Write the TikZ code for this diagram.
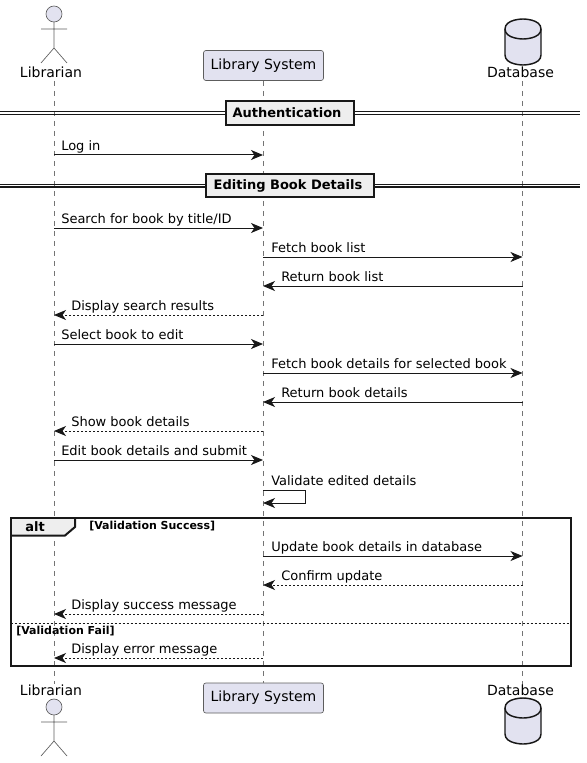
\documentclass[tikz,border=0pt]{standalone}
\usepackage{fontspec}
\setmainfont{DejaVu Sans}
\usetikzlibrary{
  arrows.meta,
  calc
}
\definecolor{fillP}{RGB}{226, 226, 240}
\definecolor{fillG}{RGB}{238, 238, 238}
\definecolor{inkclr}{RGB}{24, 24, 24}
\tikzset{
  % Lines
  lifeline/.style  = {draw=inkclr!60, line width=0.4pt, dash pattern=on 3.75pt off 3.75pt},
  actorline/.style = {draw=inkclr!70, line width=0.5pt},
  msgline/.style   = {draw=inkclr, line width=0.75pt, -{Stealth[length=9pt,width=7.5pt,inset=2.6pt]}},
  msgdash/.style   = {msgline, dash pattern=on 1.5pt off 1.5pt},
  % Shapes
  partbox/.style   = {draw=inkclr!70, fill=fillP, line width=0.5pt, rounded corners=1.8pt,
                      minimum width=90pt, minimum height=22.5pt, inner sep=0pt,
                      text height=7.5pt, text depth=2pt, font=\fontsize{10.5}{12}\selectfont},
  dbshape/.style   = {draw=inkclr, fill=fillP, line width=1.1pt},
  divbox/.style    = {draw=inkclr, fill=fillG, line width=1.5pt, inner sep=0pt,
                      text height=8pt, text depth=1.5pt, font=\fontsize{9.75}{12}\selectfont\bfseries},
  divline/.style   = {draw=inkclr, line width=1pt},
  frameline/.style = {draw=inkclr, line width=1.5pt},
  % Labels
  lab/.style       = {inner sep=0pt, anchor=base, font=\fontsize{10.5}{12}\selectfont},
  msglab/.style    = {inner sep=0pt, anchor=base west, font=\fontsize{9.75}{12}\selectfont},
  guardlab/.style  = {inner sep=0pt, anchor=base west, font=\fontsize{8.25}{10}\selectfont\bfseries},
}
\begin{document}
\begin{tikzpicture}[x=0.75pt,y=-0.75pt]
  \useasboundingbox (0,0) rectangle (586,763);
  \coordinate (lib) at (54,0);
  \coordinate (sys) at (263,0);
  \coordinate (dbase) at (522.5,0);
  % Lifelines
  \node[partbox] (syshead) at (263.5,65.5) {Library System};
  \node[partbox] (sysfoot) at (263.5,698) {Library System};
  \coordinate (libtop) at (54,81);
  \coordinate (libend) at (54,684);
  \coordinate (dbtop) at (522.5,81);
  \coordinate (dbend) at (522.5,686);
  \draw[lifeline] (libtop) -- (libend);
  \draw[lifeline] (syshead.south -| sys) -- (sysfoot.north -| sys);
  \draw[lifeline] (dbtop) -- (dbend);
  % Actors
  \foreach \nm/\yy/\base in {head/14/78,foot/707/695}{
    \draw[actorline, fill=fillP] (54,\yy) circle (6pt);
    \draw[actorline] (54,\yy+8) -- (54,\yy+34) (41,\yy+15) -- (67,\yy+15)
      (41,\yy+49) -- (54,\yy+34) -- (67,\yy+49);
    \node[lab] (lib\nm) at (51,\base) {Librarian};
    \node[lab] (db\nm) at (520.5,\base) {Database};
  }
  % Database
  \foreach \yy in {19,698}{
    \draw[dbshape] (505,\yy+10) .. controls (505,\yy) and (523,\yy) .. (523,\yy)
      .. controls (523,\yy) and (541,\yy) .. (541,\yy+10) -- (541,\yy+36)
      .. controls (541,\yy+46) and (523,\yy+46) .. (523,\yy+46)
      .. controls (523,\yy+46) and (505,\yy+46) .. (505,\yy+36) -- cycle;
    \draw[dbshape, fill=none] (505,\yy+10) .. controls (505,\yy+20) and (523,\yy+20) .. (523,\yy+20)
      .. controls (523,\yy+20) and (541,\yy+20) .. (541,\yy+10);
  }
  % Dividers
  \foreach \nm/\yy/\boxw/\pad/\txt in {auth/113/128/4.5/Authentication,edit/185.5/168/3/Editing Book Details}{
    \coordinate (dl\nm) at (0,\yy);
    \coordinate (dr\nm) at (580,\yy);
    \draw[divline] ([yshift=1pt]dl\nm) -- ([yshift=1pt]dr\nm);
    \draw[divline] ([yshift=-1pt]dl\nm) -- ([yshift=-1pt]dr\nm);
    \node[divbox, minimum width=\boxw*0.75pt, minimum height=17.6pt] (div\nm) at (290,\yy) {\txt\kern\pad pt};
  }
  % Messages
  \foreach \yy/\src/\dst/\lft/\gap/\txt in {
    155/lib/sys/lib/7/Log in,
    228/lib/sys/lib/7/{Search for book by title/ID},
    257/sys/dbase/sys/8/Fetch book list,
    286/dbase/sys/sys/18/Return book list,
    344/lib/sys/lib/7/Select book to edit,
    373/sys/dbase/sys/8/Fetch book details for selected book,
    402/dbase/sys/sys/18/Return book details,
    460/lib/sys/lib/7/Edit book details and submit,
    556/sys/dbase/sys/8/Update book details in database}{
    \coordinate (s\yy) at (\src |- 0,\yy);
    \coordinate (t\yy) at (\dst |- 0,\yy);
    \draw[msgline] (s\yy) -- (t\yy);
    \node[msglab] (m\yy) at ([xshift=\gap*0.75pt,yshift=3.4pt]\lft |- s\yy) {\txt};
  }
  \foreach \yy/\src/\dst/\lft/\gap/\txt in {
    315/sys/lib/lib/17/Display search results,
    431/sys/lib/lib/17/Show book details,
    585/dbase/sys/sys/18/Confirm update,
    614/sys/lib/lib/17/Display success message,
    658/sys/lib/lib/17/Display error message}{
    \coordinate (s\yy) at (\src |- 0,\yy);
    \coordinate (t\yy) at (\dst |- 0,\yy);
    \draw[msgdash] (s\yy) -- (t\yy);
    \node[msglab] (m\yy) at ([xshift=\gap*0.75pt,yshift=3.4pt]\lft |- s\yy) {\txt};
  }
  % Self message
  \coordinate (selfa) at (263,490);
  \coordinate (selfb) at (263,503);
  \draw[msgline] (selfa) -- (305,490) -- (305,503) -- (selfb);
  \node[msglab] (selflab) at (271,485.5) {Validate edited details};
  % Alt frame
  \fill[fillG] (10.5,518) -- (75,518) -- (75,527) -- (65,535.5) -- (10.5,535.5) -- cycle;
  \draw[frameline] (75,518) -- (75,527) -- (65,535.5) -- (10.5,535.5);
  \draw[frameline] (10.5,518) rectangle (570.5,666);
  \draw[draw=inkclr, line width=0.75pt, dash pattern=on 1.5pt off 1.5pt] (10.5,623) -- (570.5,623);
  \node[msglab, font=\fontsize{9.75}{12}\selectfont\bfseries] (altlab) at (25,531) {alt};
  \node[guardlab] (okguard) at (89,529) {[Validation Success]};
  \node[guardlab] (failguard) at (16,634) {[Validation Fail]};
\end{tikzpicture}
\end{document}
